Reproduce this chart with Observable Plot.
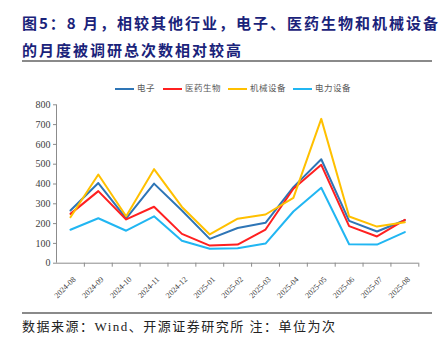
<!DOCTYPE html>
<html><head><meta charset="utf-8">
<script src="https://cdn.jsdelivr.net/npm/d3@7"></script>
<script src="https://cdn.jsdelivr.net/npm/@observablehq/plot@0.6"></script>
<style>
html,body{margin:0;padding:0;background:#fff;}
#wrap{position:relative;width:440px;height:352px;overflow:hidden;font-family:"Liberation Serif","Noto Sans CJK SC",serif;}
.title{position:absolute;left:22px;font-family:"Noto Sans CJK SC",sans-serif;font-weight:bold;font-size:15px;color:#1a237a;letter-spacing:2px;white-space:nowrap;line-height:18px;}
.rule{position:absolute;left:22px;width:410px;height:2px;background:#8a8a8a;}
#chart{position:absolute;left:0;top:62px;}
.leg{position:absolute;top:81px;height:12px;font-family:"Noto Sans CJK SC",sans-serif;font-size:8.5px;color:#595959;letter-spacing:0.5px;white-space:nowrap;line-height:12px;}
.leg i{display:inline-block;width:19px;height:2px;vertical-align:middle;margin-right:3px;}
.foot{position:absolute;left:22px;top:318px;font-size:13px;color:#222;letter-spacing:1.5px;white-space:nowrap;line-height:18px;font-family:"Liberation Serif","Noto Sans CJK SC",serif;}
</style></head>
<body><div id="wrap">
<div class="title" style="top:14px">图5：8 月，相较其他行业，电子、医药生物和机械设备</div>
<div class="title" style="top:41px">的月度被调研总次数相对较高</div>
<div class="rule" style="top:60px"></div>
<div id="legend"></div>
<div id="chart"></div>
<div class="rule" style="top:312px"></div>
<div class="foot">数据来源：Wind、开源证券研究所 注：单位为次</div>
</div>
<script>
const months = ["2024-08","2024-09","2024-10","2024-11","2024-12","2025-01","2025-02","2025-03","2025-04","2025-05","2025-06","2025-07","2025-08"];
const seriesNames = ["电子","医药生物","机械设备","电力设备"];
const electronics = [266, 405, 226, 402, 266, 123, 178, 204, 384, 525, 214, 160, 217];
const pharma      = [249, 364, 221, 285, 148,  89,  94, 170, 376, 497, 187, 135, 219];
const machinery   = [232, 448, 237, 475, 284, 145, 225, 246, 330, 729, 236, 185, 207];
const power       = [169, 227, 164, 237, 113,  73,  76,  99, 261, 381,  96,  94, 157];
const yTicks = [0,100,200,300,400,500,600,700,800];
const colors = ["#2e75b6","#ff2020","#ffc000","#21b6f2"];

const valuesList = [electronics, pharma, machinery, power];
const rows = [];
seriesNames.forEach((s, k) => valuesList[k].forEach((v, i) => rows.push({series: s, i, month: months[i], value: v})));

const legend = document.getElementById("legend");
const legX = [115, 163, 228, 293];
seriesNames.forEach((s, k) => {
  const d = document.createElement("div");
  d.className = "leg";
  d.style.left = legX[k] + "px";
  d.innerHTML = `<i style="background:${colors[k]}"></i>${s}`;
  legend.appendChild(d);
});

const serif = "Liberation Serif";
const chart = Plot.plot({
  width: 440,
  height: 250,
  marginLeft: 56,
  marginRight: 21.7,
  marginTop: 42.3,
  marginBottom: 49.3,
  style: {fontFamily: serif, fontSize: "10px", color: "#404040", background: "transparent", overflow: "visible"},
  x: {type: "linear", domain: [-0.5, months.length - 0.5]},
  y: {domain: [0, 800]},
  color: {domain: seriesNames, range: colors},
  marks: [
    Plot.ruleX([-0.5], {y1: 0, y2: 800, stroke: "#8c8c8c", strokeWidth: 1}),
    Plot.ruleY([0], {stroke: "#8c8c8c", strokeWidth: 1}),
    Plot.axisY({ticks: yTicks, tickSize: 3, tickPadding: 3, stroke: "#8c8c8c", fontSize: 10, fontFamily: serif, fill: "#404040", label: null}),
    Plot.axisX({ticks: d3.range(0.5, months.length, 1), tickSize: 4, tickFormat: () => "", stroke: "#8c8c8c", label: null}),
    Plot.axisX({ticks: d3.range(months.length), tickSize: 0, tickFormat: i => months[i], tickRotate: -45, textAnchor: "end", dy: 3, dx: 4, fontSize: 8, fontFamily: serif, fill: "#404040", label: null}),
    Plot.lineY(rows, {x: "i", y: "value", z: "series", stroke: "series", strokeWidth: 2})
  ]
});
document.getElementById("chart").appendChild(chart);
</script>
</body></html>
